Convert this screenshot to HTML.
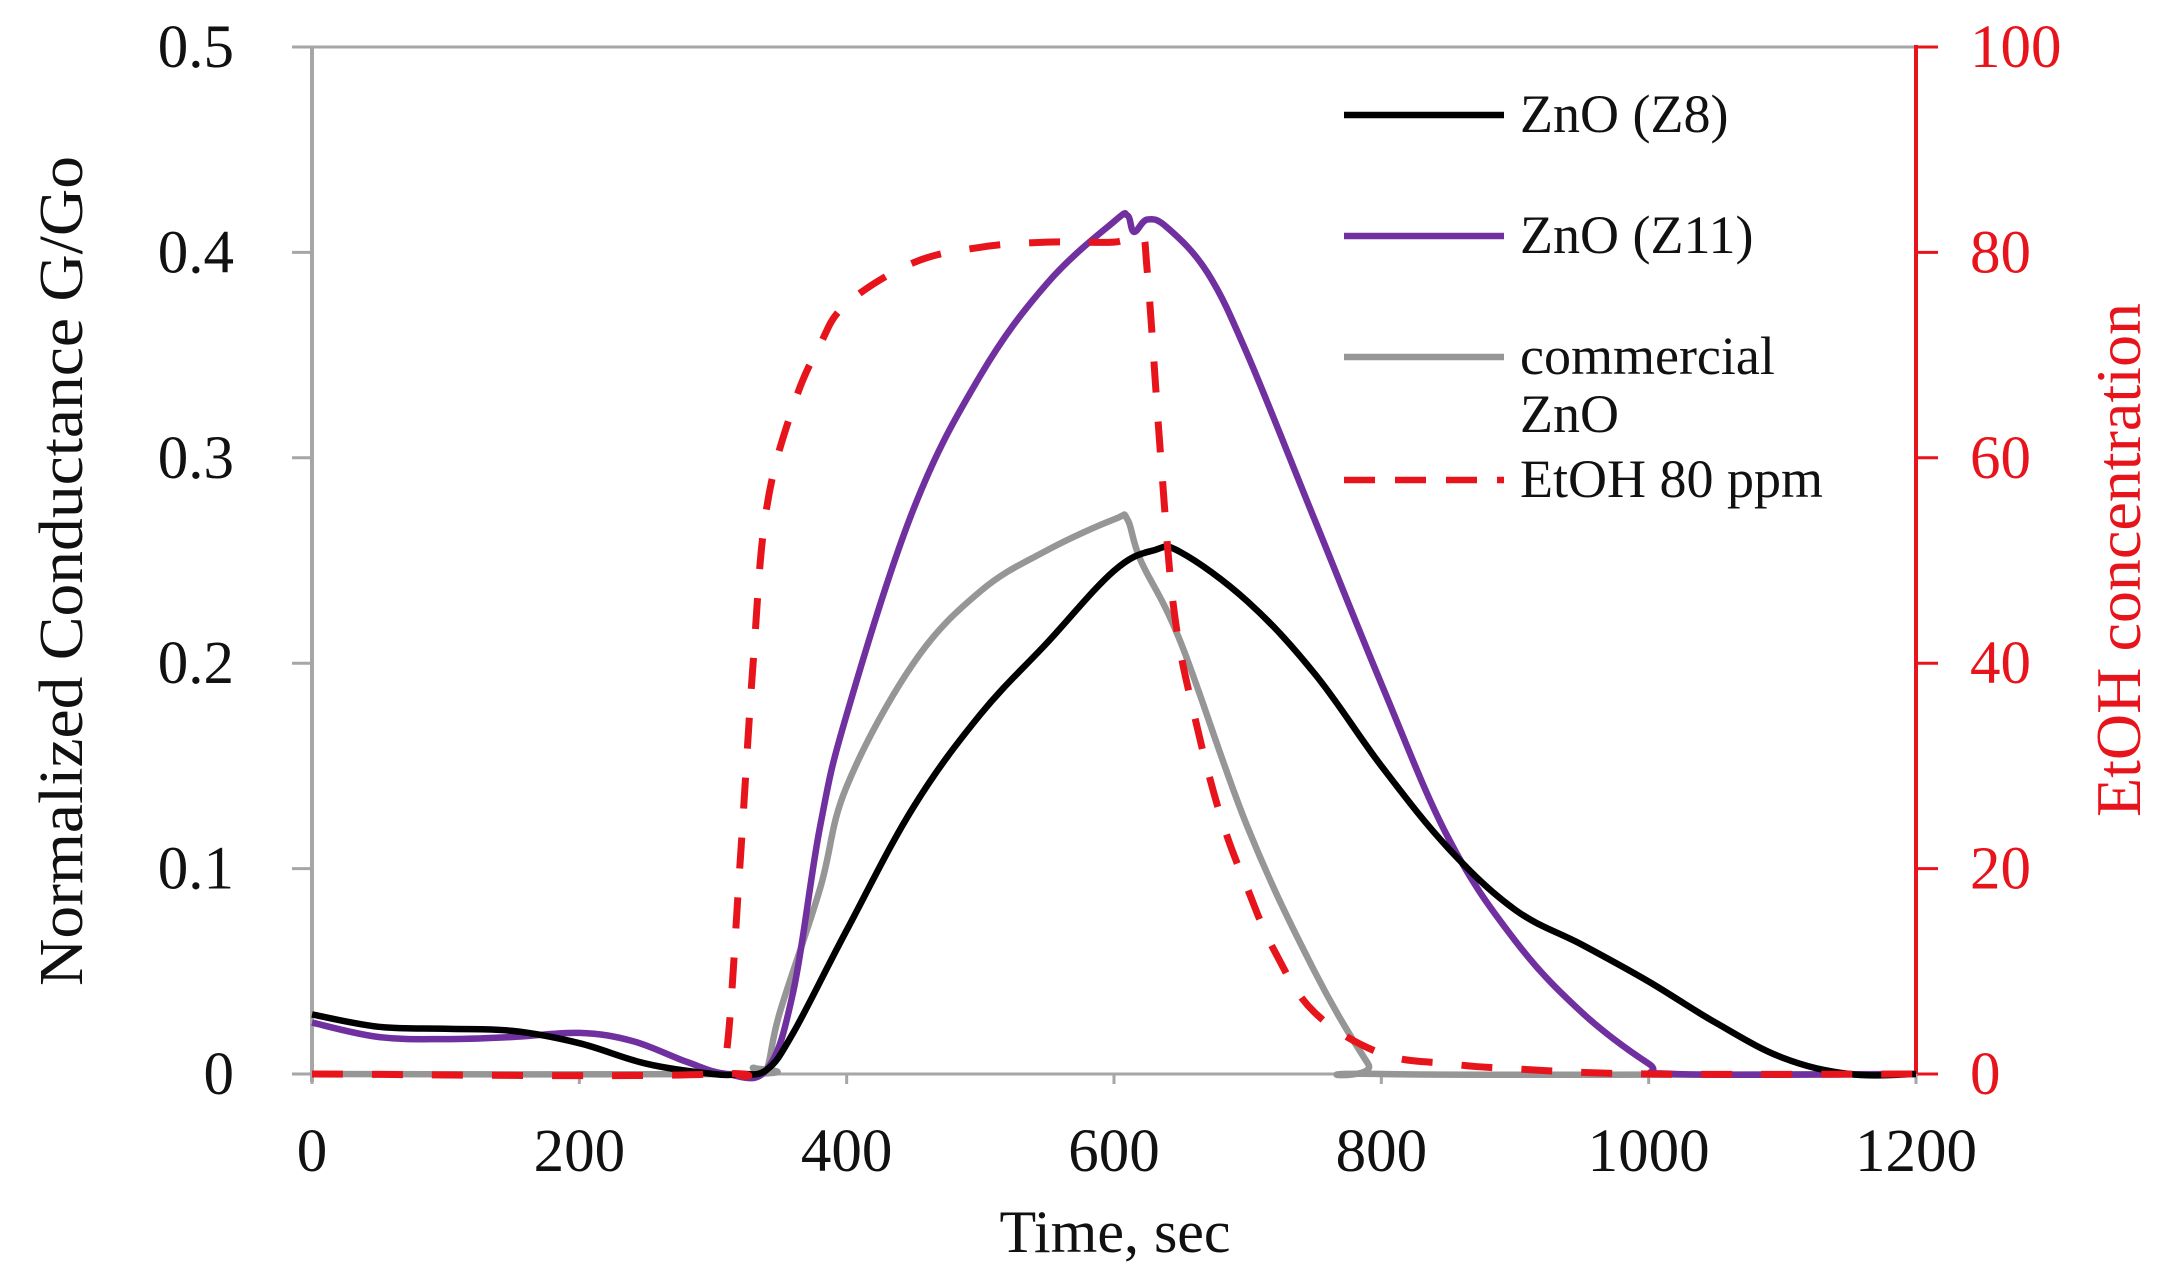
<!DOCTYPE html>
<html><head><meta charset="utf-8"><style>
html,body{margin:0;padding:0;background:#fff;}
svg{display:block;font-family:"Liberation Serif",serif;}
</style></head><body>
<svg id="chart" width="2177" height="1288" viewBox="0 0 2177 1288">
<g id="axes"></g>
<g id="series"></g>
<g id="legend"></g>
</svg>
<script>
const zTime=[0,50,100,150,200,250,300,320,340,360,400,450,500,550,600,630,650,700,750,800,850,900,950,1000,1050,1100,1150,1200];
const zValues=[0.029,0.023,0.022,0.021,0.015,0.005,0,0,0.002,0.02,0.07,0.13,0.175,0.21,0.245,0.255,0.254,0.23,0.195,0.15,0.11,0.08,0.063,0.045,0.025,0.008,0,0];
const z11Time=[0,50,100,150,200,240,280,310,340,360,380,400,450,500,550,600,610,615,625,640,670,700,750,800,850,900,950,1000,1020,1200];
const z11Values=[0.025,0.018,0.017,0.018,0.02,0.016,0.006,0,0.002,0.04,0.12,0.175,0.275,0.34,0.385,0.415,0.418,0.41,0.416,0.412,0.39,0.35,0.27,0.19,0.115,0.065,0.03,0.005,0,0];
const comTime=[0,320,330,340,350,380,400,450,500,550,600,610,620,650,700,750,790,800,1200];
const comValues=[0,0,0.003,0.002,0.03,0.09,0.14,0.2,0.235,0.255,0.27,0.27,0.25,0.21,0.12,0.05,0.005,0,0];
const etTime=[0,300,310,320,330,340,360,380,400,450,500,550,600,620,625,635,645,660,680,700,720,750,800,850,900,1000,1200];
const etValues=[0,0,2,20,40,55,65,71,75,79,80.5,81,81,81.5,78,60,45,35,25,18,12,6,2,1,0.5,0,0];
const xTicks=[0,200,400,600,800,1000,1200];
const yTicks=[0,0.1,0.2,0.3,0.4,0.5];
const y2Ticks=[0,20,40,60,80,100];

const X0=312,X1=1916,Y0=1074,Y1=47;
const sx=t=>X0+t/1200*(X1-X0);
const sy=v=>Y0-v/0.5*(Y0-Y1);
const sy2=v=>Y0-v/100*(Y0-Y1);
const NS="http://www.w3.org/2000/svg";
function mk(tag,attrs,parent,text){const e=document.createElementNS(NS,tag);for(const k in attrs)e.setAttribute(k,attrs[k]);if(text!==undefined)e.textContent=text;parent.appendChild(e);return e;}
const axes=document.getElementById('axes'),series=document.getElementById('series'),legend=document.getElementById('legend');

let e;
e=mk('line',{x1:X0,y1:Y1,x2:X1,y2:Y1,stroke:'#a6a6a6','stroke-width':3},axes);


e=mk('line',{x1:X0,y1:Y1,x2:X0,y2:Y0+8,stroke:'#a6a6a6','stroke-width':4},axes);


e=mk('line',{x1:X0,y1:Y0,x2:X1,y2:Y0,stroke:'#a6a6a6','stroke-width':3},axes);


e=mk('line',{x1:X1,y1:Y1-2,x2:X1,y2:Y0+2,stroke:'#e8141b','stroke-width':4},axes);



yTicks.forEach(v=>{
  e=mk('line',{x1:X0-20,y1:sy(v),x2:X0,y2:sy(v),stroke:'#a6a6a6','stroke-width':3},axes);
  
  
  e=mk('text',{x:234,y:sy(v)+20,'text-anchor':'end','font-size':61,fill:'#111'},axes,v===0?'0':v.toFixed(1));
  
  
});
y2Ticks.forEach(v=>{
  e=mk('line',{x1:X1,y1:sy2(v),x2:X1+22,y2:sy2(v),stroke:'#e8141b','stroke-width':3},axes);
  
  
  e=mk('text',{x:1970,y:sy2(v)+20,'text-anchor':'start','font-size':61,fill:'#e8141b'},axes,String(v));
  
  
});
xTicks.forEach(t=>{
  e=mk('line',{x1:sx(t),y1:Y0,x2:sx(t),y2:Y0+10,stroke:'#a6a6a6','stroke-width':3},axes);
  
  
  e=mk('text',{x:sx(t),y:1171,'text-anchor':'middle','font-size':61,fill:'#111'},axes,String(t));
  
  
});
e=mk('text',{x:1115,y:1252,'text-anchor':'middle','font-size':60,fill:'#111'},axes,'Time, sec');


e=mk('text',{x:0,y:0,'text-anchor':'middle','font-size':62,fill:'#111',transform:'translate(82,571) rotate(-90)',textLength:830,lengthAdjust:'spacingAndGlyphs'},axes,'Normalized Conductance  G/Go');


e=mk('text',{x:0,y:0,'text-anchor':'middle','font-size':64,fill:'#e8141b',transform:'translate(2140,560) rotate(-90)',textLength:514,lengthAdjust:'spacingAndGlyphs'},axes,'EtOH concentration');



function path(ts,vs,f){
  const p=ts.map((t,i)=>[sx(t),f(vs[i])]);
  let d='M'+p[0][0].toFixed(1)+','+p[0][1].toFixed(1);
  const k=0.18;
  for(let i=0;i<p.length-1;i++){
    const p0=p[Math.max(i-1,0)],p1=p[i],p2=p[i+1],p3=p[Math.min(i+2,p.length-1)];
    const c1x=p1[0]+(p2[0]-p0[0])*k,c1y=p1[1]+(p2[1]-p0[1])*k;
    const c2x=p2[0]-(p3[0]-p1[0])*k,c2y=p2[1]-(p3[1]-p1[1])*k;
    d+=' C'+c1x.toFixed(1)+','+c1y.toFixed(1)+' '+c2x.toFixed(1)+','+c2y.toFixed(1)+' '+p2[0].toFixed(1)+','+p2[1].toFixed(1);
  }
  return d;
}
e=mk('path',{d:path(comTime,comValues,sy),fill:'none',stroke:'#969696','stroke-width':6.5,'stroke-linejoin':'round'},series);


e=mk('path',{d:path(z11Time,z11Values,sy),fill:'none',stroke:'#7030a0','stroke-width':6.5,'stroke-linejoin':'round'},series);


e=mk('path',{d:path(zTime,zValues,sy),fill:'none',stroke:'#000','stroke-width':6.5,'stroke-linejoin':'round'},series);


e=mk('path',{d:path(etTime,etValues,sy2),fill:'none',stroke:'#e8141b','stroke-width':7,'stroke-dasharray':'31,29'},series);



const leg=[['ZnO (Z8)','#000',115,null],['ZnO (Z11)','#7030a0',236,null],['commercial','#969696',357,null],['EtOH 80 ppm','#e8141b',480,'31,20']];
leg.forEach(r=>{
  const a={x1:1344,y1:r[2],x2:1504,y2:r[2],stroke:r[1],'stroke-width':6.5};
  if(r[3])a['stroke-dasharray']=r[3];
  e=mk('line',a,legend);
  
  
  e=mk('text',{x:1520,y:r[2]+17,'font-size':54,fill:'#111'},legend,r[0]);
  
  
});
e=mk('text',{x:1520,y:432,'font-size':54,fill:'#111'},legend,'ZnO');


</script>
</body></html>
